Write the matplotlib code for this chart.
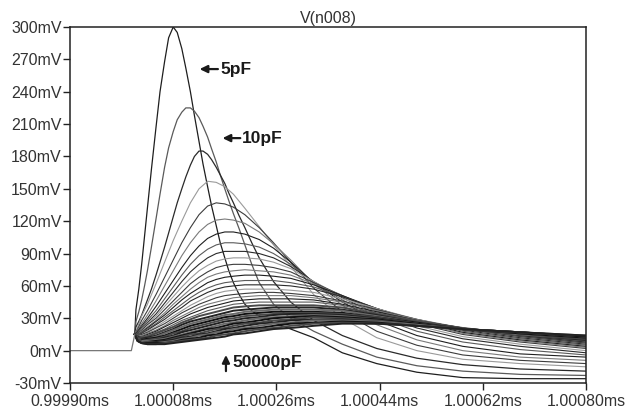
import matplotlib
matplotlib.use("Agg")
import matplotlib.pyplot as plt

# ---------------- data ----------------
title = "V(n008)"
x_tick_ns = [0, 180, 360, 540, 720, 900]          # ns after 0.99990 ms
x_tick_labels = ["0.99990ms", "1.00008ms", "1.00026ms", "1.00044ms", "1.00062ms", "1.00080ms"]
y_ticks = [-30, 0, 30, 60, 90, 120, 150, 180, 210, 240, 270, 300]
y_tick_labels = [f"{v}mV" for v in y_ticks]

# baseline before the step
base_t = [0, 107, 113]
base_v = [0, 0, 15]

# fine sample times (ns after 0.99990 ms) for the three fastest curves
t_fine = [113, 115, 120, 125, 130, 135, 142, 150, 157, 165, 172, 180, 187, 195, 202, 210,
          217, 225, 232, 240, 247, 255, 262, 270, 277, 285, 295, 305, 317, 330, 355, 385,
          425, 475, 535, 605, 685, 785, 900]
fast_mv = [  # 5pF, 10pF, 15pF
    [15, 38, 57, 80, 106, 132, 168, 207, 240, 268, 290, 300, 295, 280, 262, 240, 218, 194,
     173, 152, 134, 116, 100, 86, 74, 63, 52, 43, 37, 32, 26, 20, 12, -2, -12, -20, -25, -26, -26],
    [15, 27, 36, 47, 60, 74, 96, 122, 145, 170, 188, 203, 214, 221, 225, 225, 222, 216,
     208, 198, 187, 175, 163, 150, 139, 127, 113, 98, 80, 63, 43, 30, 18, 6, -6, -14, -19, -22, -23],
    [15, 22, 27, 33, 40, 47, 57, 70, 82, 96, 109, 124, 137, 150, 161, 172, 180, 185,
     185, 182, 177, 170, 163, 155, 146, 137, 125, 114, 100, 86, 64, 45, 28, 14, 2, -7, -13, -17, -19],
]

# coarse sample times (ns after 0.99990 ms) for the remaining curves
t_ns = [113, 118, 125, 135, 150, 165, 180, 195, 210, 225, 240, 255, 270, 285,
        305, 330, 355, 385, 425, 475, 535, 605, 685, 785, 900]
curves_mv = [
    [15, 22, 32, 43, 62, 82, 102, 120, 137, 150, 157, 156, 152, 145, 132, 115, 98, 78, 52, 30, 12, 0, -8, -12, -15],
    [15, 20, 28, 37, 52, 68, 84, 100, 114, 126, 134, 137, 136, 133, 126, 114, 100, 82, 58, 36, 18, 5, -4, -9, -12],
    [15, 19, 25, 33, 46, 60, 74, 88, 100, 110, 117, 121, 122, 121, 118, 110, 99, 84, 62, 42, 24, 10, 0, -6, -9],
    [15, 18, 23, 30, 41, 53, 65, 77, 88, 97, 104, 108, 110, 110, 108, 103, 95, 82, 63, 45, 28, 14, 4, -3, -6],
    [15, 17, 22, 28, 37, 48, 59, 70, 80, 88, 94, 98, 100, 100, 99, 96, 90, 80, 63, 47, 31, 18, 8, 1, -4],
    [15, 17, 21, 26, 34, 44, 54, 64, 73, 80, 86, 90, 92, 92, 92, 90, 86, 78, 64, 49, 34, 21, 11, 4, -2],
    [15, 16, 20, 25, 32, 41, 50, 59, 67, 74, 79, 83, 85, 86, 86, 85, 82, 76, 64, 50, 36, 23, 13, 6, 0],
    [15, 16, 19, 24, 30, 38, 46, 54, 62, 68, 73, 77, 79, 80, 80, 79, 77, 73, 63, 51, 37, 25, 15, 8, 2],
    [15, 15, 18, 22, 28, 35, 43, 50, 57, 63, 68, 71, 73, 74, 75, 74, 73, 70, 62, 51, 38, 26, 16, 9, 3],
    [15, 15, 17, 21, 27, 33, 40, 47, 53, 58, 63, 66, 68, 69, 70, 70, 69, 67, 61, 51, 39, 27, 17, 10, 4],
    [15, 15, 17, 20, 25, 31, 37, 43, 49, 54, 58, 61, 63, 64, 65, 65, 65, 63, 59, 50, 39, 28, 18, 11, 5],
    [15, 14, 16, 19, 24, 29, 35, 40, 46, 50, 54, 57, 59, 60, 61, 61, 61, 60, 57, 50, 39, 28, 19, 12, 6],
    [15, 14, 15, 18, 22, 27, 32, 37, 42, 46, 50, 53, 55, 56, 57, 57, 57, 56, 54, 48, 39, 29, 20, 13, 7],
    [15, 14, 15, 17, 21, 25, 30, 35, 39, 43, 46, 49, 51, 52, 53, 54, 54, 53, 51, 46, 38, 29, 20, 13, 7],
    [15, 13, 14, 16, 19, 23, 28, 32, 36, 40, 43, 45, 47, 49, 50, 51, 51, 51, 49, 45, 37, 29, 21, 14, 8],
    [15, 13, 13, 15, 18, 22, 26, 30, 34, 37, 40, 42, 44, 46, 47, 48, 48, 48, 47, 43, 36, 28, 21, 14, 8],
    [15, 12, 13, 14, 17, 20, 24, 28, 31, 34, 37, 39, 41, 43, 44, 45, 45, 45, 45, 42, 35, 28, 21, 15, 9],
    [15, 12, 12, 13, 16, 19, 22, 26, 29, 32, 34, 36, 38, 40, 41, 42, 42, 42, 42, 40, 34, 27, 21, 15, 9],
    [15, 11, 11, 12, 14, 17, 20, 24, 27, 29, 31, 33, 35, 37, 38, 39, 40, 40, 40, 38, 33, 26, 20, 15, 10],
    [15, 11, 10, 11, 13, 16, 19, 22, 25, 27, 29, 31, 33, 34, 36, 37, 38, 38, 38, 37, 32, 26, 20, 15, 11],
    [15, 10, 10, 11, 12, 14, 17, 20, 23, 25, 27, 29, 31, 32, 34, 35, 36, 36, 36, 35, 31, 26, 20, 16, 11],
    [15, 10, 9, 10, 11, 13, 16, 18, 21, 23, 25, 27, 29, 30, 32, 33, 34, 35, 35, 34, 31, 25, 20, 16, 11],
    [15, 10, 9, 9, 10, 12, 14, 17, 19, 21, 23, 25, 27, 28, 30, 31, 33, 34, 34, 33, 30, 25, 20, 16, 12],
    [15, 10, 9, 9, 10, 11, 13, 15, 17, 19, 21, 23, 25, 26, 28, 30, 31, 32, 33, 32, 29, 25, 20, 16, 12],
    [15, 10, 8, 8, 9, 10, 12, 14, 16, 18, 20, 21, 23, 25, 26, 28, 30, 31, 32, 31, 29, 25, 20, 16, 12],
    [15, 10, 8, 8, 8, 9, 11, 13, 15, 16, 18, 20, 21, 23, 25, 26, 28, 29, 31, 30, 28, 24, 20, 17, 13],
    [15, 9, 8, 7, 8, 9, 10, 12, 13, 15, 16, 18, 20, 21, 23, 25, 26, 28, 29, 29, 27, 24, 20, 17, 13],
    [15, 9, 8, 7, 7, 8, 9, 11, 12, 14, 15, 17, 18, 20, 21, 23, 25, 26, 28, 28, 27, 24, 20, 17, 13],
    [15, 9, 7, 7, 7, 7, 8, 10, 11, 12, 14, 15, 17, 18, 20, 21, 23, 25, 26, 27, 26, 23, 20, 17, 13],
    [15, 9, 7, 6, 6, 7, 8, 9, 10, 11, 12, 14, 15, 16, 18, 20, 21, 23, 25, 26, 25, 23, 20, 17, 14],
    [15, 9, 7, 6, 6, 6, 7, 8, 9, 10, 11, 12, 13, 15, 16, 18, 20, 21, 23, 25, 25, 23, 20, 17, 14],
]

# annotations: label, text position, arrow tail and tip (ns, mV)
note_labels = ["5pF", "10pF", "50000pF"]
note_text_xy = [(262, 261), (300, 197), (284, -11)]
note_tail_xy = [(258, 261), (297, 197), (272, -19)]
note_tip_xy = [(226, 261), (266, 197), (272, -4)]

# ---------------- drawing ----------------
plt.rcParams["font.family"] = ["Liberation Sans", "DejaVu Sans"]

fig = plt.figure(figsize=(6.25, 4.15), dpi=100)
ax = fig.add_axes([70 / 625, 1 - 383 / 415, (586 - 70) / 625, (383 - 27) / 415])

greys = ["#1e1e1e", "#5a5a5a", "#2a2a2a", "#9a9a9a", "#3c3c3c", "#7a7a7a"]
band_greys = ["#111111", "#4a4a4a", "#222222", "#6a6a6a"]
for i, v in enumerate(fast_mv):
    ax.plot(t_fine, v, color=greys[i % len(greys)], lw=0.9, solid_joinstyle="round")
for j, v in enumerate(curves_mv):
    i = j + len(fast_mv)
    if j < 17:
        ax.plot(t_ns, v, color=greys[i % len(greys)], lw=0.8, solid_joinstyle="round")
    else:
        ax.plot(t_ns, v, color=band_greys[j % len(band_greys)], lw=1.4, solid_joinstyle="round")
ax.plot(base_t, base_v, color="#777777", lw=0.9)

ax.set_xlim(0, 900)
ax.set_ylim(-30, 300)
ax.set_xticks(x_tick_ns)
ax.set_xticklabels(x_tick_labels)
ax.set_yticks(y_ticks)
ax.set_yticklabels(y_tick_labels)
ax.tick_params(axis="both", direction="out", length=5, width=1.0, colors="#222222",
               labelsize=11.5, labelcolor="#333333")
ax.tick_params(axis="y", pad=1)
ax.tick_params(axis="x", pad=3)
for s in ax.spines.values():
    s.set_linewidth(1.1)
    s.set_color("#222222")

ax.set_title(title, fontsize=11.5, color="#333333", pad=3)

for lab, txy, tail, tip in zip(note_labels, note_text_xy, note_tail_xy, note_tip_xy):
    ax.annotate("", xy=tip, xytext=tail,
                arrowprops=dict(arrowstyle="-|>,head_length=0.45,head_width=0.22",
                                lw=1.6, color="#1a1a1a", shrinkA=0, shrinkB=0))
    ax.text(txy[0], txy[1], lab, fontsize=12.5, fontweight="bold", color="#1a1a1a",
            va="center", ha="left")

fig.savefig("out.png", dpi=100)
